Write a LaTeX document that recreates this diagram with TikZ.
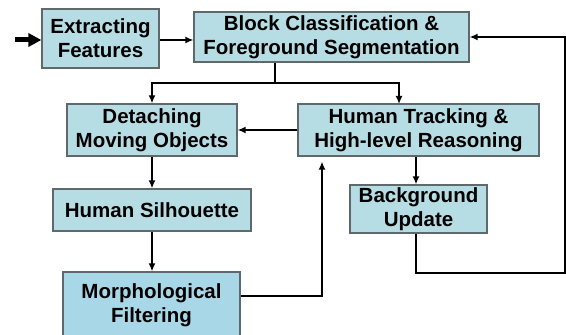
\documentclass[tikz,border=0pt]{standalone}
\usepackage{fontspec}
\setmainfont{Liberation Sans}
\usepackage{xcolor}
\usepackage{tikz}
\usetikzlibrary{arrows.meta}
\definecolor{boxblue}{RGB}{183,221,228}
\definecolor{morphblue}{RGB}{168,216,232}
\definecolor{boxline}{RGB}{95,105,108}

\begin{document}
\begin{tikzpicture}[x=0.5pt,y=-0.5pt,
  box/.style={draw=boxline,fill=boxblue,line width=0.6pt,align=center,inner sep=0pt,
    font=\fontsize{10.25}{12}\selectfont\bfseries},
  flow/.style={line width=1pt,-{Latex[length=4pt,width=3.5pt]}},
  link/.style={line width=1pt}]
\useasboundingbox (0,0) rectangle (566,335);

\node[box,minimum width=58.5pt,minimum height=29.5pt] (feat) at (100.5,38.5) {Extracting\\Features};
\node[box,minimum width=137.5pt,minimum height=25pt] (block) at (331.5,37) {Block Classification \&\\Foreground Segmentation};
\node[box,minimum width=85pt,minimum height=26pt] (detach) at (152,130) {Detaching\\Moving Objects};
\node[box,minimum width=120.5pt,minimum height=26pt] (track) at (418.5,130) {Human Tracking \&\\High-level Reasoning};
\node[box,minimum width=99pt,minimum height=21pt] (silh) at (152,210) {Human Silhouette};
\node[box,minimum width=68.5pt,minimum height=24pt] (bg) at (418.5,209) {Background\\Update};
\node[box,fill=morphblue,minimum width=88.5pt,minimum height=33pt] (morph) at (151.5,305) {Morphological\\Filtering};

\coordinate (in) at (15,40);
\coordinate (split) at (275,83);
\coordinate (trackin) at (399,104);
\coordinate (up) at (322,296);
\coordinate (rb) at (565,273);

\draw[line width=2.5pt,-{Triangle[length=6.5pt,width=6.5pt]}] (in) -- (in -| feat.west);
\draw[flow] (feat.east |- in) -- (in -| block.west);
\draw[link] (block.south -| split) -- (split);
\draw[flow] (split) -| (detach.north);
\draw[flow] (split) -| (trackin);
\draw[flow] (track.west) -- (detach.east);
\draw[flow] (detach.south) -- (silh.north);
\draw[flow] (silh.south) -- (silh.south |- morph.north);
\draw[flow,shorten >=2.5pt] (up -| morph.east) -- (up) -- (up |- track.south);
\draw[flow] ([xshift=-1.25pt]track.south) -- ([xshift=-1.25pt]bg.north);
\draw[flow] ([xshift=-1.25pt]bg.south) |- (rb) |- (block.east);

\end{tikzpicture}
\end{document}
